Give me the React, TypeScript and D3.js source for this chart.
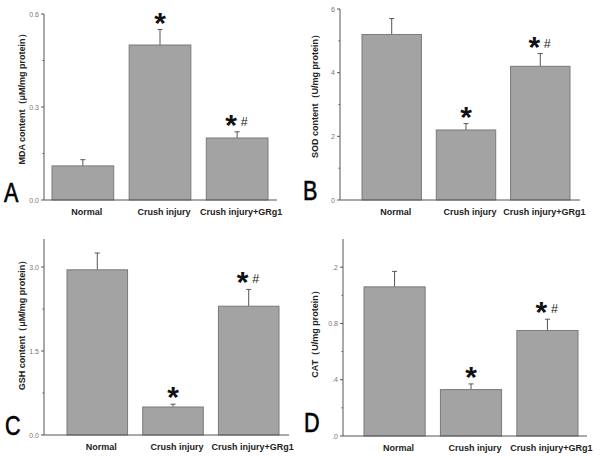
import React from "react";
import * as d3 from "d3";

const categories = ["Normal", "Crush injury", "Crush injury+GRg1"];

const mdaValues = [0.11, 0.5, 0.2];
const mdaErrors = [0.02, 0.05, 0.02];
const mdaMarks = ["", "*", "*#"];
const mdaTicks = [0, 0.3, 0.6];
const mdaTickLabels = ["0.0", "0.3", "0.6"];
const mdaMinor = [0.15, 0.45];

const sodValues = [5.2, 2.2, 4.2];
const sodErrors = [0.5, 0.2, 0.4];
const sodMarks = ["", "*", "*#"];
const sodTicks = [0, 2, 4, 6];
const sodTickLabels = ["0", "2", "4", "6"];
const sodMinor = [1, 3, 5];

const gshValues = [2.95, 0.5, 2.3];
const gshErrors = [0.3, 0.05, 0.3];
const gshMarks = ["", "*", "*#"];
const gshTicks = [0, 1.5, 3.0];
const gshTickLabels = ["0.0", "1.5", "3.0"];
const gshMinor = [0.75, 2.25];

const catValues = [1.06, 0.33, 0.75];
const catErrors = [0.11, 0.04, 0.08];
const catMarks = ["", "*", "*#"];
const catTicks = [0, 0.4, 0.8, 1.2];
const catTickLabels = [".0", ".4", "0.8", ".2"];
const catMinor = [0.2, 0.6, 1.0];

type PanelProps = {
  values: number[];
  errors: number[];
  marks: string[];
  ticks: number[];
  tickLabels: string[];
  minor: number[];
  domainMax: number;
  axisX: number;
  axisRight: number;
  yTop: number;
  yBottom: number;
  bandStart: number;
  bandEnd: number;
  title: string;
  titleX: number;
  titleY: number;
  letter: string;
  letterX: number;
  letterY: number;
};

const axisColor = "#555";
const barFill = "#a3a3a3";
const barStroke = "#7a7a7a";
const FONT = "Liberation Sans, Arial, sans-serif";

function Star({ x, y }: { x: number; y: number }) {
  // y = desired visual centre of the asterisk
  return (
    <text
      x={x}
      y={y + 14}
      textAnchor="middle"
      fontFamily={FONT}
      fontWeight="bold"
      fontSize={30}
      fill="#111"
    >
      *
    </text>
  );
}

function Panel(p: PanelProps) {
  const y = d3.scaleLinear().domain([0, p.domainMax]).range([p.yBottom, p.yTop]);
  const x = d3
    .scaleBand<string>()
    .domain(categories)
    .range([p.bandStart, p.bandEnd])
    .paddingInner(0.2)
    .paddingOuter(0);
  const bw = x.bandwidth();
  return (
    <g>
      {categories.map((c, i) => {
        const x0 = x(c)!;
        const cx = x0 + bw / 2;
        const top = y(p.values[i]);
        const errTop = y(p.values[i] + p.errors[i]);
        const mark = p.marks[i];
        const markY = errTop - 11;
        return (
          <g key={c}>
            <line x1={cx} x2={cx} y1={top} y2={errTop} stroke="#555" strokeWidth={1} />
            <line x1={cx - 2.5} x2={cx + 2.5} y1={errTop} y2={errTop} stroke="#555" strokeWidth={1} />
            <rect
              x={x0}
              y={top}
              width={bw}
              height={p.yBottom - top}
              fill={barFill}
              stroke={barStroke}
              strokeWidth={1}
            />
            {mark === "*" && <Star x={cx} y={markY} />}
            {mark === "*#" && (
              <g>
                <Star x={cx - 6} y={markY} />
                <text
                  x={cx + 7}
                  y={markY + 5}
                  textAnchor="middle"
                  fontFamily={FONT}
                  fontSize={12.5}
                  fill="#222"
                >
                  #
                </text>
              </g>
            )}
            <text
              x={cx + 4}
              y={p.yBottom + 15}
              textAnchor="middle"
              fontFamily={FONT}
              fontWeight="bold"
              fontSize={9}
              fill="#222"
            >
              {c}
            </text>
          </g>
        );
      })}
      <line x1={p.axisX} x2={p.axisX} y1={p.yTop} y2={p.yBottom} stroke={axisColor} strokeWidth={1} />
      <line x1={p.axisX} x2={p.axisRight} y1={p.yBottom} y2={p.yBottom} stroke={axisColor} strokeWidth={1} />
      {p.ticks.map((t, i) => (
        <g key={"t" + i}>
          <line x1={p.axisX - 3} x2={p.axisX} y1={y(t)} y2={y(t)} stroke={axisColor} strokeWidth={1} />
          <text
            x={p.axisX - 5}
            y={y(t) + 2.5}
            textAnchor="end"
            fontFamily={FONT}
            fontSize={7}
            fill="#777"
          >
            {p.tickLabels[i]}
          </text>
        </g>
      ))}
      {p.minor.map((t, i) => (
        <line key={"m" + i} x1={p.axisX - 1.5} x2={p.axisX} y1={y(t)} y2={y(t)} stroke={axisColor} strokeWidth={1} />
      ))}
      <text
        transform={`translate(${p.titleX},${p.titleY}) rotate(-90)`}
        textAnchor="middle"
        fontFamily={FONT}
        fontWeight="bold"
        fontSize={9}
        fill="#222"
      >
        {p.title}
      </text>
      <text
        transform={`translate(${p.letterX},${p.letterY}) scale(0.8,1)`}
        fontFamily={FONT}
        fontSize={27}
        fill="#000"
        stroke="#000"
        strokeWidth={0.6}
      >
        {p.letter}
      </text>
    </g>
  );
}

export default function App() {
  return (
    <svg
      width={607}
      height={456}
      style={{ position: "absolute", left: 0, top: 0, background: "#fff" }}
    >
      <rect x={0} y={0} width={607} height={456} fill="#fff" />
      <Panel
        values={mdaValues}
        errors={mdaErrors}
        marks={mdaMarks}
        ticks={mdaTicks}
        tickLabels={mdaTickLabels}
        minor={mdaMinor}
        domainMax={0.6}
        axisX={44}
        axisRight={277}
        yTop={14}
        yBottom={200}
        bandStart={52}
        bandEnd={268}
        title="MDA content（μM/mg protein）"
        titleX={25}
        titleY={97}
        letter="A"
        letterX={4}
        letterY={202}
      />
      <Panel
        values={sodValues}
        errors={sodErrors}
        marks={sodMarks}
        ticks={sodTicks}
        tickLabels={sodTickLabels}
        minor={sodMinor}
        domainMax={6}
        axisX={340}
        axisRight={580}
        yTop={9}
        yBottom={200}
        bandStart={362}
        bandEnd={570}
        title="SOD content（U/mg protein）"
        titleX={318}
        titleY={94}
        letter="B"
        letterX={303}
        letterY={200}
      />
      <Panel
        values={gshValues}
        errors={gshErrors}
        marks={gshMarks}
        ticks={gshTicks}
        tickLabels={gshTickLabels}
        minor={gshMinor}
        domainMax={3.5}
        axisX={44}
        axisRight={289}
        yTop={239}
        yBottom={435}
        bandStart={67}
        bandEnd={279}
        title="GSH content（μM/mg protein）"
        titleX={25}
        titleY={323}
        letter="C"
        letterX={5}
        letterY={435}
      />
      <Panel
        values={catValues}
        errors={catErrors}
        marks={catMarks}
        ticks={catTicks}
        tickLabels={catTickLabels}
        minor={catMinor}
        domainMax={1.4}
        axisX={343}
        axisRight={587}
        yTop={239}
        yBottom={436}
        bandStart={364}
        bandEnd={578}
        title="CAT（U/mg protein）"
        titleX={318}
        titleY={332}
        letter="D"
        letterX={304}
        letterY={432}
      />
    </svg>
  );
}
